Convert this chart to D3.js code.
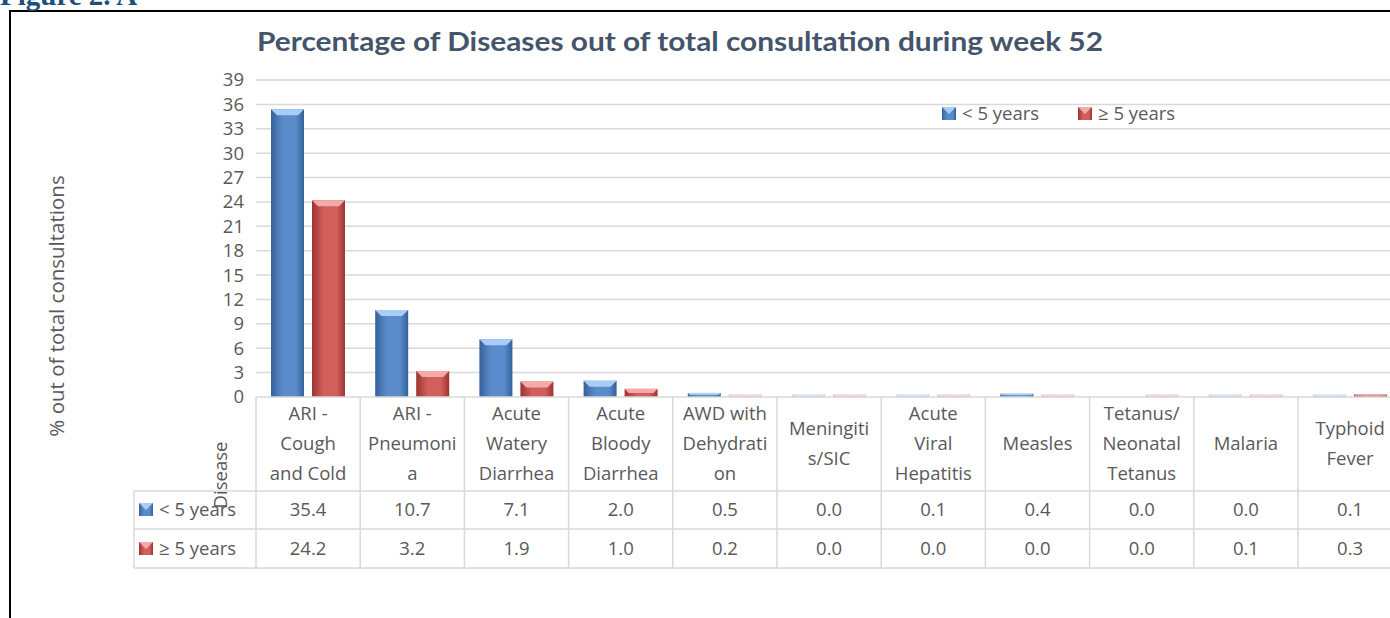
<!DOCTYPE html>
<html>
<head>
<meta charset="utf-8">
<title>Percentage of Diseases</title>
<script src="https://cdn.jsdelivr.net/npm/d3@7"></script>
<style>
    body { margin: 0; background: #fff; }
    svg { display: block; }
    text { font-family: "Open Sans", Lato, sans-serif; fill: #595959; }
</style>
</head>
<body>
<svg width="1390" height="618"></svg>
<script>
// data
const categories = ["ARI -\nCough\nand Cold", "ARI -\nPneumoni\na", "Acute\nWatery\nDiarrhea",
    "Acute\nBloody\nDiarrhea", "AWD with\nDehydrati\non", "Meningiti\ns/SIC", "Acute\nViral\nHepatitis",
    "Measles", "Tetanus/\nNeonatal\nTetanus", "Malaria", "Typhoid\nFever"];
const seriesNames = ["< 5 years", "\u2265 5 years"];
const under5 = [35.4, 10.7, 7.1, 2.0, 0.5, 0.02, 0.1, 0.4, 0, 0.03, 0.1];
const over5 = [24.2, 3.2, 1.9, 1.0, 0.2, 0.02, 0.03, 0.03, 0.02, 0.1, 0.3];
const yTicks = d3.range(0, 40, 3);

const svg = d3.select("svg");
const fs = "18.5px";
const colors = [
    { dark: "#36619a", mid: "#5a8ccb", light: "#a9cdf5" },
    { dark: "#9c3431", mid: "#d25f5b", light: "#f4aaa7" }
];

// gradients for the bevelled bars
const defs = svg.append("defs");
colors.forEach((c, i) => {
    const g = defs.append("linearGradient").attr("id", "grad" + i)
        .attr("x1", "0%").attr("x2", "100%").attr("y1", "0%").attr("y2", "0%");
    g.append("stop").attr("offset", "0%").attr("stop-color", c.dark);
    g.append("stop").attr("offset", "35%").attr("stop-color", c.mid);
    g.append("stop").attr("offset", "75%").attr("stop-color", c.mid);
    g.append("stop").attr("offset", "100%").attr("stop-color", c.dark);
});

// outer frame and figure caption
svg.append("rect").attr("x", 10).attr("y", 11).attr("width", 1400).attr("height", 620)
    .attr("fill", "none").attr("stroke", "#000").attr("stroke-width", 2);
svg.append("text").attr("x", 0).attr("y", 5)
    .style("font-family", "'Liberation Serif', serif").style("font-weight", "bold")
    .style("font-size", "29px").style("fill", "#1f4e79")
    .text("Figure 2. A");

svg.append("text").attr("x", 680).attr("y", 51).attr("text-anchor", "middle")
    .style("font-family", "Lato, sans-serif")
    .style("font-size", "26px").style("font-weight", "bold").style("fill", "#44546a")
    .attr("textLength", 846).attr("lengthAdjust", "spacingAndGlyphs")
    .text("Percentage of Diseases out of total consultation during week 52");

const colW = 104.2;
const x0 = d3.scaleBand().domain(categories).range([256, 256 + colW * categories.length]);
const x1 = d3.scaleBand().domain(seriesNames).range([15, 89]).paddingInner(0.195);
const y = d3.scaleLinear().domain([0, 39]).range([397, 80]);

// gridlines + y labels
svg.append("g").selectAll("line").data(yTicks.filter(d => d > 0)).join("line")
    .attr("x1", 256).attr("x2", 1390)
    .attr("y1", d => y(d)).attr("y2", d => y(d))
    .attr("stroke", "#d9d9d9").attr("stroke-width", 1.5);

svg.append("g").selectAll("text").data(yTicks).join("text")
    .attr("x", 244).attr("y", d => y(d)).attr("dy", "0.35em")
    .attr("text-anchor", "end").style("font-size", fs)
    .text(d => d);

svg.append("text").attr("transform", "translate(57,306) rotate(-90)")
    .attr("text-anchor", "middle").attr("dy", "0.35em").style("font-size", "20.5px")
    .text("% out of total consultations");

// bars
function drawBar(g, x, v, w, c, gradId) {
    const base = y(0);
    let h = base - y(v);
    if (v === 0) return;
    const faint = h < 2;
    h = Math.max(h, 2.5);
    const top = base - h;
    const bar = g.append("g").attr("opacity", faint ? 0.35 : 1);
    bar.append("rect").attr("x", x).attr("y", top).attr("width", w).attr("height", h)
        .attr("fill", "url(#" + gradId + ")");
    const b = Math.min(6, h / 2);
    bar.append("path")
        .attr("d", `M${x},${top}L${x + w},${top}L${x + w - b},${top + b}L${x + b},${top + b}Z`)
        .attr("fill", c.light);
}

const series = [under5, over5];
const barG = svg.append("g");
series.forEach((vals, si) => {
    categories.forEach((cat, ci) => {
        drawBar(barG, x0(cat) + x1(seriesNames[si]), vals[ci], x1.bandwidth(), colors[si], "grad" + si);
    });
});

// data table
const tTop = 397, tHead = 491, tRow1 = 529, tRow2 = 568;
const tEnd = 256 + colW * categories.length;
const grid = svg.append("g").attr("stroke", "#d9d9d9").attr("stroke-width", 1.5);
grid.append("line").attr("x1", 256).attr("x2", tEnd).attr("y1", tTop).attr("y2", tTop);
[tHead, tRow1, tRow2].forEach(yy =>
    grid.append("line").attr("x1", 134).attr("x2", tEnd).attr("y1", yy).attr("y2", yy));
grid.append("line").attr("x1", 134).attr("x2", 134).attr("y1", tHead).attr("y2", tRow2);
grid.selectAll(".v").data(categories).join("line")
    .attr("x1", d => x0(d)).attr("x2", d => x0(d)).attr("y1", tTop).attr("y2", tRow2);

// header labels
const head = svg.append("g").selectAll("text").data(categories).join("text")
    .attr("text-anchor", "middle").style("font-size", fs)
    .attr("x", d => x0(d) + colW / 2);
head.each(function (d) {
    const lines = d.split("\n");
    const t = d3.select(this);
    const start = 444 - (lines.length - 1) * 15;
    lines.forEach((ln, i) => {
        t.append("tspan").attr("x", x0(d) + colW / 2).attr("y", start + i * 30)
            .attr("dy", "0.35em").text(ln);
    });
});

svg.append("text").attr("transform", "translate(221,475) rotate(-90)")
    .attr("text-anchor", "middle").attr("dy", "0.35em").style("font-size", fs)
    .text("Disease");

// value rows
const rowYs = [510, 549];
series.forEach((vals, si) => {
    const ry = rowYs[si];
    svg.append("g").selectAll("text").data(vals).join("text")
        .attr("x", (d, i) => x0(categories[i]) + colW / 2).attr("y", ry).attr("dy", "0.35em")
        .attr("text-anchor", "middle").style("font-size", fs)
        .text(d => d.toFixed(1));
    // legend key
    const key = svg.append("g");
    const c = colors[si];
    key.append("rect").attr("x", 139).attr("y", ry - 7).attr("width", 14).attr("height", 13)
        .attr("fill", "url(#grad" + si + ")");
    key.append("path").attr("d", `M139,${ry - 7}L153,${ry - 7}L146,${ry}Z`).attr("fill", c.light);
    svg.append("text").attr("x", 159).attr("y", ry).attr("dy", "0.35em")
        .style("font-size", fs).text(seriesNames[si]);
});

// legend
const legX = [942, 1078];
seriesNames.forEach((s, i) => {
    const c = colors[i];
    svg.append("rect").attr("x", legX[i]).attr("y", 107).attr("width", 14).attr("height", 13)
        .attr("fill", "url(#grad" + i + ")");
    svg.append("path").attr("d", `M${legX[i]},107L${legX[i] + 14},107L${legX[i] + 7},114Z`)
        .attr("fill", c.light);
    svg.append("text").attr("x", legX[i] + 20).attr("y", 114).attr("dy", "0.35em")
        .style("font-size", fs).text(s);
});
</script>
</body>
</html>
